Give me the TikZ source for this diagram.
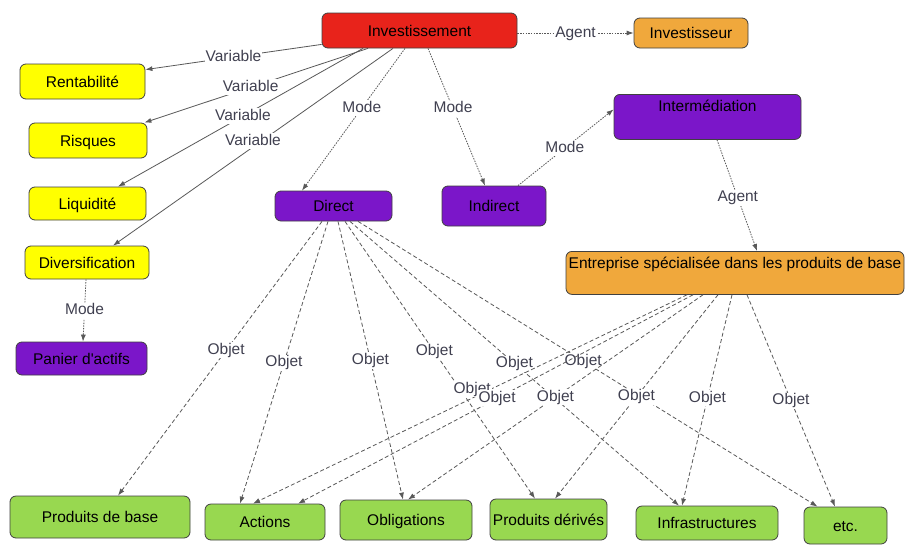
\documentclass[tikz,border=0pt]{standalone}
\usepackage{fontspec}
\setmainfont{Liberation Sans}
\usepackage{tikz}
\usetikzlibrary{arrows.meta}
\definecolor{invred}{RGB}{232,35,27}
\definecolor{invorange}{RGB}{240,168,60}
\definecolor{varyellow}{RGB}{255,255,0}
\definecolor{modepurple}{RGB}{123,22,201}
\definecolor{objgreen}{RGB}{152,216,80}
\definecolor{labgray}{RGB}{64,64,80}

\begin{document}
\begin{tikzpicture}[x=1pt, y=-1pt,
		every node/.style={font=\fontsize{15.5}{18}\selectfont},
		box/.style={draw=black!75, line width=0.8pt, rounded corners=6pt, text height=11pt, text depth=0pt, inner sep=2pt},
		lbl/.style={fill=white, text=labgray, inner sep=1pt, text height=11pt, text depth=3pt},
		var/.style={draw=black!65, line width=0.8pt, -{Latex[length=7pt,width=5pt]}},
		mode/.style={draw=black!65, line width=0.8pt, dash pattern=on 1.5pt off 1.2pt, -{Latex[length=7pt,width=5pt]}},
		obj/.style={draw=black!65, line width=0.8pt, dash pattern=on 4pt off 2.5pt, -{Latex[length=7pt,width=5pt]}}]
			%%%%% START %%%%%
			
			\fill[white] (0, 0) rectangle (905, 544);
			\useasboundingbox (0, 0) rectangle (905, 544);
			
			\node[box, fill=invred, minimum width=195pt, minimum height=35pt] (inv) at (419.5, 30.5) {Investissement};
			\node[box, fill=invorange, minimum width=114pt, minimum height=30pt] (invr) at (691, 33) {Investisseur};
			
			\node[box, fill=varyellow, minimum width=125pt, minimum height=35pt] (rent) at (82.5, 81.5) {Rentabilité};
			\node[box, fill=varyellow, minimum width=118pt, minimum height=35pt] (risq) at (88, 140.5) {Risques};
			\node[box, fill=varyellow, minimum width=117pt, minimum height=33pt] (liq) at (87.5, 203.5) {Liquidité};
			\node[box, fill=varyellow, minimum width=124pt, minimum height=33pt] (div) at (87, 262.5) {Diversification};
			\node[box, fill=modepurple, minimum width=131pt, minimum height=33pt] (pan) at (81.5, 358.5) {Panier d\textquotesingle actifs};
			
			\node[box, fill=modepurple, minimum width=117pt, minimum height=30pt] (dir) at (333.5, 206) {Direct};
			\node[box, fill=modepurple, minimum width=104pt, minimum height=40pt] (ind) at (494, 206) {Indirect};
			\node[box, fill=modepurple, minimum width=187pt, text depth=22pt, inner ysep=6pt, anchor=north] (interm) at (707.5, 94) {Intermédiation};
			\node[box, fill=invorange, minimum width=338pt, text depth=20pt, inner ysep=6pt, inner xsep=2pt, anchor=north] (entr) at (735, 251) {Entreprise spécialisée dans les produits de base};
			
			\node[box, fill=objgreen, minimum width=180pt, minimum height=42pt] (pdb) at (100, 517) {Produits de base};
			\node[box, fill=objgreen, minimum width=120pt, minimum height=36pt] (act) at (265, 522) {Actions};
			\node[box, fill=objgreen, minimum width=132pt, minimum height=40pt] (obl) at (406, 520) {Obligations};
			\node[box, fill=objgreen, minimum width=117pt, minimum height=41pt] (pder) at (548.5, 519.5) {Produits dérivés};
			\node[box, fill=objgreen, minimum width=142pt, minimum height=34pt] (infra) at (707, 523) {Infrastructures};
			\node[box, fill=objgreen, minimum width=83pt, minimum height=37pt] (etc) at (845.5, 525.5) {etc.};
			
			% variables
			\draw[var] ([yshift=4pt]inv.south west) -- node[lbl, pos=0.5] {Variable} ([yshift=-6pt]rent.north east);
			\draw[var] ([xshift=-51.5pt]inv.south) -- node[lbl, pos=0.525] {Variable} ([xshift=-3pt]risq.north east);
			\draw[var] ([xshift=-56.5pt]inv.south) -- node[lbl, pos=0.49] {Variable} ([xshift=30.5pt]liq.north);
			\draw[var] ([xshift=-26.5pt]inv.south) -- node[lbl, pos=0.5, yshift=6pt] {Variable} ([xshift=26pt]div.north);
			
			% modes and agents
			\draw[mode] ([yshift=-2.5pt]inv.east) -- node[lbl] {Agent} (invr.west);
			\draw[mode] ([xshift=-14.5pt]inv.south) -- node[lbl, pos=0.42] {Mode} ([xshift=-31.5pt]dir.north);
			\draw[mode] ([xshift=8.5pt]inv.south) -- node[lbl, pos=0.44] {Mode} ([xshift=-9pt]ind.north);
			\draw[mode] ([xshift=24pt]ind.north) -- node[lbl, pos=0.49] {Mode} ([yshift=7.5pt]interm.west);
			\draw[mode] ([xshift=9.5pt]interm.south) -- node[lbl, pos=0.52] {Agent} ([xshift=22pt]entr.north);
			\draw[mode] ([xshift=-1pt]div.south) -- node[lbl] {Mode} ([xshift=1.5pt]pan.north);
			
			% objets (direct)
			\draw[obj] ([xshift=-11.5pt]dir.south) -- node[lbl, pos=0.47] {Objet} ([xshift=18pt]pdb.north);
			\draw[obj] ([xshift=-5.5pt]dir.south) -- node[lbl, pos=0.5] {Objet} ([xshift=-25pt]act.north);
			\draw[obj] ([xshift=4.5pt]dir.south) -- node[lbl, pos=0.5] {Objet} ([xshift=-3pt]obl.north);
			\draw[obj] ([xshift=11.5pt]dir.south) -- node[lbl, pos=0.47] {Objet} ([xshift=-13.5pt]pder.north);
			\draw[obj] ([xshift=16.5pt]dir.south) -- node[lbl, pos=0.5] {Objet} ([xshift=-28pt]infra.north);
			\draw[obj] ([xshift=24.5pt]dir.south) -- node[lbl, pos=0.49] {Objet} ([xshift=-28pt]etc.north);
			
			% objets (entreprise)
			\draw[obj] ([xshift=-48pt]entr.south) -- node[lbl, pos=0.495, yshift=9pt] {Objet} ([xshift=-12pt]act.north);
			\draw[obj] ([xshift=-42pt]entr.south) -- node[lbl, pos=0.496] {Objet} ([xshift=33pt]act.north);
			\draw[obj] ([xshift=-32pt]entr.south) -- node[lbl, pos=0.5] {Objet} ([xshift=2pt]obl.north);
			\draw[obj] ([xshift=-17pt]entr.south) -- node[lbl, pos=0.5] {Objet} ([xshift=6.5pt]pder.north);
			\draw[obj] ([xshift=-3pt]entr.south) -- node[lbl, pos=0.49] {Objet} ([xshift=-25pt]infra.north);
			\draw[obj] ([xshift=12pt]entr.south) -- node[lbl, pos=0.5] {Objet} ([xshift=-10.5pt]etc.north);
			
			%%%%% END %%%%%
		\end{tikzpicture}
\end{document}
